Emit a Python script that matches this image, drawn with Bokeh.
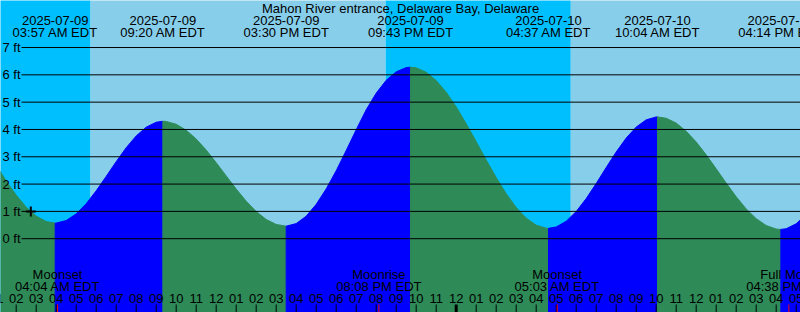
from bokeh.plotting import figure
from bokeh.embed import file_html
from bokeh.resources import INLINE
from bokeh.core.properties import value

TITLE = "Mahon River entrance, Delaware Bay, Delaware"

# hours since 2025-07-09 00:00 EDT, heights in ft
sample_hours = [1.0, 1.5, 2.0, 2.5, 3.0, 3.5,
                4.0, 4.5, 5.0, 5.5, 6.0, 6.5, 7.0, 7.5, 8.0, 8.5, 9.0,
                9.5, 10.0, 10.5, 11.0, 11.5, 12.0, 12.5, 13.0, 13.5, 14.0, 14.5, 15.0,
                16.0, 16.5, 17.0, 17.5, 18.0, 18.5, 19.0, 19.5, 20.0, 20.5, 21.0, 21.5,
                22.0, 22.5, 23.0, 23.5, 24.0, 24.5, 25.0, 25.5, 26.0, 26.5, 27.0, 27.5, 28.0, 28.5,
                29.0, 29.5, 30.0, 30.5, 31.0, 31.5, 32.0, 32.5, 33.0, 33.5, 34.0,
                34.5, 35.0, 35.5, 36.0, 36.5, 37.0, 37.5, 38.0, 38.5, 39.0, 39.5, 40.0,
                40.5, 41.0, 41.5]
sample_ft = [2.693, 2.117, 1.595, 1.156, 0.827, 0.628,
             0.571, 0.665, 0.909, 1.282, 1.753, 2.281, 2.822, 3.331, 3.763, 4.084, 4.265,
             4.293, 4.190, 3.971, 3.649, 3.244, 2.784, 2.299, 1.818, 1.373, 0.994, 0.704, 0.522,
             0.553, 0.824, 1.257, 1.824, 2.489, 3.230, 3.990, 4.720, 5.330, 5.800, 6.110, 6.265,
             6.256, 6.094, 5.791, 5.361, 4.825, 4.212, 3.554, 2.884, 2.238, 1.647, 1.144, 0.753, 0.496, 0.384,
             0.430, 0.638, 0.995, 1.468, 2.021, 2.606, 3.175, 3.683, 4.087, 4.352, 4.458,
             4.410, 4.232, 3.935, 3.539, 3.070, 2.557, 2.035, 1.536, 1.091, 0.733, 0.482, 0.354,
             0.365, 0.547, 0.892]

ext_hours = [3.95, 9.333, 15.5, 21.717, 28.617, 34.067, 40.233]
ext_ft = [0.57, 4.30, 0.46, 6.28, 0.38, 4.46, 0.34]
ext_dates = ["2025-07-09", "2025-07-09", "2025-07-09", "2025-07-09",
             "2025-07-10", "2025-07-10", "2025-07-10"]
ext_times = ["03:57 AM EDT", "09:20 AM EDT", "03:30 PM EDT", "09:43 PM EDT",
             "04:37 AM EDT", "10:04 AM EDT", "04:14 PM EDT"]

sun_hours = [5.72, 20.47, 29.73]          # sunrise, sunset, sunrise
moon_hours = [4.067, 20.133, 29.05, 40.633]
moon_names = ["Moonset", "Moonrise", "Moonset", "Full Moon"]
moon_times = ["04:04 AM EDT", "08:08 PM EDT", "05:03 AM EDT", "04:38 PM EDT"]

level_ft = [0, 1, 2, 3, 4, 5, 6, 7]
level_labels = ["0 ft", "1 ft", "2 ft", "3 ft", "4 ft", "5 ft", "6 ft", "7 ft"]
tick_hours = list(range(1, 42))
tick_labels = ["%02d" % ((h - 1) % 12 + 1) for h in tick_hours]
mark_hour = [2.73]
mark_ft = [1.0]

# ---- layout ----
W, H = 800, 312
PX_HR = 20.0
PX_FT = 27.31
ZERO_Y = 238.2
X0 = 1.215
X1 = X0 + W / PX_HR
Y0 = -(H - ZERO_Y) / PX_FT
Y1 = ZERO_Y / PX_FT

NIGHT = "#00BFFF"
DAY = "#87CEEB"
FLOOD = "#0000FF"
EBB = "#2E8B57"
FONT = value("Liberation Sans")
FS = "13px"

p = figure(width=W, height=H, x_range=(X0, X1), y_range=(Y0, Y1),
           output_backend="svg", toolbar_location=None, min_border=0)
p.axis.visible = False
p.grid.visible = False
p.outline_line_color = None
p.background_fill_color = None
p.border_fill_color = None

# sky
edges = [X0 - 1] + sun_hours + [X1 + 1]
for i in range(len(edges) - 1):
    p.quad(left=edges[i], right=edges[i + 1], bottom=Y0 - 1, top=Y1 + 1,
           fill_color=NIGHT if i % 2 == 0 else DAY, line_color=None)

# tide fill
pts = sorted(zip(sample_hours + ext_hours, sample_ft + ext_ft))
bounds = [pts[0][0]] + ext_hours + [pts[-1][0]]
for i in range(len(bounds) - 1):
    seg = [(t, h) for t, h in pts if bounds[i] - 1e-9 <= t <= bounds[i + 1] + 1e-9]
    ts = [s[0] for s in seg]
    hs = [s[1] for s in seg]
    col = FLOOD if hs[-1] > hs[0] else EBB
    p.patch(ts + [ts[-1], ts[0]], hs + [Y0 - 1, Y0 - 1],
            fill_color=col, line_color=col, line_width=1)

# level lines
n = len(level_ft)
p.segment(x0=[X0 + 21 / PX_HR] * n, x1=[X1 + 1] * n, y0=level_ft, y1=level_ft,
          line_color="black", line_width=1)

def txt(x, y, t, **kw):
    p.text(x=x, y=y, text=t, text_font=FONT, text_font_size=FS,
           text_color="black", **kw)

txt([X0] * n, level_ft, level_labels, x_offset=2, y_offset=0,
    text_align="left", text_baseline="alphabetic")

# cross mark
p.scatter(mark_hour, mark_ft, marker="cross", size=10, line_width=2,
          line_color="black")

# top labels
txt([(X0 + X1) / 2], [Y1], [TITLE], y_offset=8, text_align="center",
    text_baseline="alphabetic")
m = len(ext_hours)
txt(ext_hours, [Y1] * m, ext_dates, y_offset=20, text_align="center",
    text_baseline="alphabetic")
txt(ext_hours, [Y1] * m, ext_times, y_offset=32, text_align="center",
    text_baseline="alphabetic")

# moon labels
k = len(moon_hours)
txt(moon_hours, [Y0] * k, moon_names, y_offset=-38, text_align="center",
    text_baseline="alphabetic")
txt(moon_hours, [Y0] * k, moon_times, y_offset=-26, text_align="center",
    text_baseline="alphabetic")

# hour ticks
tk = len(tick_hours)
txt(tick_hours, [Y0] * tk, tick_labels, y_offset=-14, text_align="center",
    text_baseline="alphabetic")
ytick = Y0 + 8 / PX_FT
p.segment(x0=tick_hours, x1=tick_hours, y0=[Y0 - 1] * tk, y1=[ytick] * tk,
          line_color="black", line_width=[3 if h % 24 == 0 else 1 for h in tick_hours])
p.segment(x0=moon_hours, x1=moon_hours, y0=[Y0 - 1] * k, y1=[ytick] * k,
          line_color="red", line_width=1)

open("out.html", "w").write(file_html(p, INLINE))
